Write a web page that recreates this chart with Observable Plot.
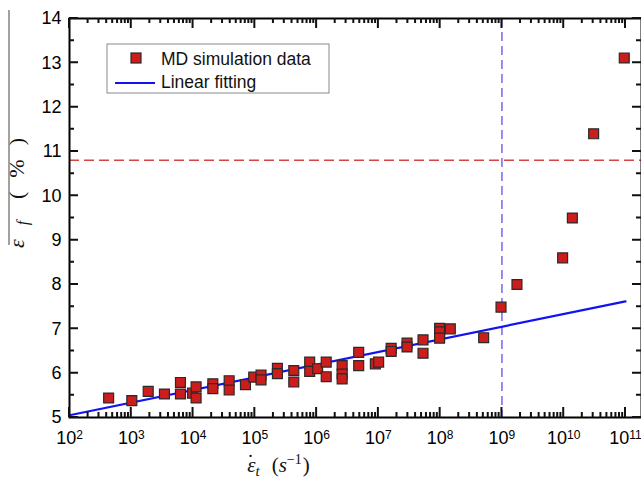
<!DOCTYPE html>
<html>
<head>
<meta charset="utf-8">
<script src="https://cdn.jsdelivr.net/npm/d3@7"></script>
<script src="https://cdn.jsdelivr.net/npm/@observablehq/plot@0.6"></script>
<style>
  body { margin: 0; background: #fff; }
  #chart svg { display: block; font-family: 'Liberation Sans', Arial, sans-serif; background: #fff; }
</style>
</head>
<body>
<div id="chart"></div>
<script>
// Fracture strain (%) against tensile strain rate (1/s), MD results
const strainRate = [
  430, 1020, 1880, 3440, 6250, 6250, 9800, 11200, 11200,
  20900, 20900, 38400, 38400, 70500, 96000, 126000, 126000,
  232000, 232000, 427000, 427000, 773000, 773000, 1.04e6,
  1.43e6, 1.43e6, 2.59e6, 2.59e6, 2.59e6, 4.8e6, 4.8e6,
  8.93e6, 1.01e7, 1.61e7, 1.61e7, 2.91e7, 2.91e7, 5.28e7, 5.28e7,
  9.8e7, 9.8e7, 9.8e7, 1.46e8, 5.06e8, 9.66e8, 1.75e9,
  9.6e9, 1.38e10, 3.05e10, 9.55e10
];
const fractureStrain = [
  5.44, 5.38, 5.59, 5.53, 5.79, 5.53, 5.55, 5.69, 5.44,
  5.76, 5.65, 5.83, 5.62, 5.74, 5.91, 5.96, 5.85,
  6.11, 5.99, 6.06, 5.80, 6.25, 6.04, 6.10,
  6.25, 5.92, 6.17, 5.98, 5.87, 6.47, 6.17,
  6.21, 6.25, 6.56, 6.49, 6.68, 6.59, 6.75, 6.45,
  7.01, 6.93, 6.79, 7.00, 6.80, 7.49, 8.00,
  8.60, 9.50, 11.40, 13.11
];

// Linear fit (strain vs log strain rate), end points
const fitRate = [1e2, 1e11];
const fitStrain = [5.05, 7.62];

// Reference levels
const criticalStrain = [10.8];
const criticalRate = [1e9];

// Ticks
const yMajor = [5, 6, 7, 8, 9, 10, 11, 12, 13, 14];
const yMinor = [5.5, 6.5, 7.5, 8.5, 9.5, 10.5, 11.5, 12.5, 13.5];
const xExponents = [2, 3, 4, 5, 6, 7, 8, 9, 10, 11];

const legendLabels = ["MD simulation data", "Linear fitting"];

const RED = "#cc1c1c";
const BLUE = "#1212f2";

const W = 641, H = 479;
const MAJOR = 9, MINOR = 5;

const points = strainRate.map((x, i) => ({x, y: fractureStrain[i]}));
const fit = fitRate.map((x, i) => ({x, y: fitStrain[i]}));
const xMajor = xExponents.map(e => 10 ** e);
const xMinor = xExponents.slice(0, -1).flatMap(e => d3.range(2, 10).map(k => k * 10 ** e));

const chart = Plot.plot({
  width: W,
  height: H,
  marginLeft: 69,
  marginRight: 0,
  marginTop: 18,
  marginBottom: 62,
  x: {type: "log", domain: [1e2, 10 ** 11.259], label: null},
  y: {domain: [5, 14], label: null},
  marks: [
    Plot.ruleY(criticalStrain, {stroke: "#d84545", strokeWidth: 1.5, strokeDasharray: "10,5"}),
    Plot.ruleX(criticalRate, {stroke: "#7565f5", strokeWidth: 1.5, strokeDasharray: "9,5"}),
    Plot.line(fit, {x: "x", y: "y", stroke: BLUE, strokeWidth: 2.2}),
    Plot.dot(points, {x: "x", y: "y", symbol: "square", r: 5.6, fill: RED, stroke: "#2a2a2a", strokeWidth: 1.2}),
    Plot.frame({stroke: "black", strokeWidth: 2}),
    Plot.axisY({ticks: yMajor, anchor: "left", tickSize: 0, tickPadding: 8, fontSize: 18,
                tickFormat: d => String(d), label: null}),
    Plot.axisX({ticks: xMajor, anchor: "bottom", tickSize: 0, tickPadding: 14, fontSize: 18,
                tickFormat: d => String(Math.round(Math.log10(d))), label: null})
  ]
});

document.getElementById("chart").append(chart);

const svg = d3.select(chart);

// Powers of ten on the bottom axis: "10" with a raised exponent
svg.selectAll('g[aria-label="x-axis tick label"] text').each(function () {
  const exp = this.textContent.trim();
  if (!exp) return;
  const t = d3.select(this);
  t.text(null);
  t.append("tspan").text("10");
  t.append("tspan").attr("dy", "-0.45em").attr("font-size", 12).text(exp);
});

const mathFont = "'Liberation Serif', 'DejaVu Serif', serif";

// y-axis title: rotated ε_f (%) with its overbar
const yTitle = svg.append("g").attr("transform", "translate(24,248) rotate(-90)");
yTitle.append("line")
  .attr("x1", 3).attr("x2", 238).attr("y1", -15).attr("y2", -15)
  .attr("stroke", "#444").attr("stroke-width", 1);
const yt = yTitle.append("text")
  .attr("text-anchor", "start")
  .attr("textLength", 110).attr("lengthAdjust", "spacing")
  .attr("font-family", mathFont).attr("font-size", 22).attr("fill", "#111");
yt.append("tspan").attr("font-style", "italic").text("ε");
yt.append("tspan").attr("font-style", "italic").attr("font-size", 16).attr("dy", 4).text("f");
yt.append("tspan").attr("dy", -4).attr("dx", 8).text("(%)");

// x-axis title: ε̇_t (s⁻¹)
const xt = svg.append("text")
  .attr("x", 247).attr("y", 472).attr("text-anchor", "start")
  .attr("font-family", mathFont).attr("font-size", 21).attr("fill", "#111");
xt.append("tspan").attr("font-style", "italic").text("ε");
xt.append("tspan").attr("dx", -8.5).attr("dy", -3).text("˙");
xt.append("tspan").attr("font-style", "italic").attr("font-size", 15).attr("dx", 1.5).attr("dy", 7).text("t");
xt.append("tspan").attr("dy", -4).attr("dx", 12).text("(");
xt.append("tspan").attr("font-style", "italic").text("s");
xt.append("tspan").attr("font-size", 14).attr("dy", -8).text("−1");
xt.append("tspan").attr("dy", 8).attr("dx", 1).text(")");

// Legend box
const legend = svg.append("g")
  .attr("font-family", "'Liberation Sans', Arial, sans-serif").attr("font-size", 17.5)
  .attr("text-anchor", "start");
legend.append("rect")
  .attr("x", 107).attr("y", 44).attr("width", 222).attr("height", 49)
  .attr("fill", "#fff").attr("stroke", "#8a8a8a").attr("stroke-width", 1);
legend.append("rect")
  .attr("x", 131).attr("y", 53).attr("width", 10).attr("height", 10)
  .attr("fill", RED).attr("stroke", "#2a2a2a").attr("stroke-width", 1.2);
legend.append("line")
  .attr("x1", 115).attr("x2", 155).attr("y1", 83).attr("y2", 83)
  .attr("stroke", BLUE).attr("stroke-width", 2);
legend.append("text").attr("x", 161).attr("y", 65).attr("fill", "#111").text(legendLabels[0]);
legend.append("text").attr("x", 161).attr("y", 88).attr("fill", "#111").text(legendLabels[1]);

// Inward-pointing ticks on all four sides, placed with the plot's own scales
const sx = chart.scale("x"), sy = chart.scale("y");
const xl = sx.apply(sx.domain[0]), xr = sx.apply(sx.domain[1]);
const yb = sy.apply(sy.domain[0]), yTop = sy.apply(sy.domain[1]);
const seg = [];
const addY = (values, len) => values.forEach(v => {
  const y = sy.apply(v);
  seg.push(`M${xl},${y}h${len}`, `M${xr},${y}h${-len}`);
});
const addX = (values, len) => values.forEach(v => {
  const x = sx.apply(v);
  seg.push(`M${x},${yb}v${-len}`, `M${x},${yTop}v${len}`);
});
addY(yMajor, MAJOR);
addY(yMinor, MINOR);
addX(xMajor, MAJOR + 1);
addX(xMinor, MINOR);
svg.append("path")
  .attr("d", seg.join(""))
  .attr("fill", "none")
  .style("stroke", "#111")
  .style("stroke-width", "2px");
</script>
</body>
</html>
